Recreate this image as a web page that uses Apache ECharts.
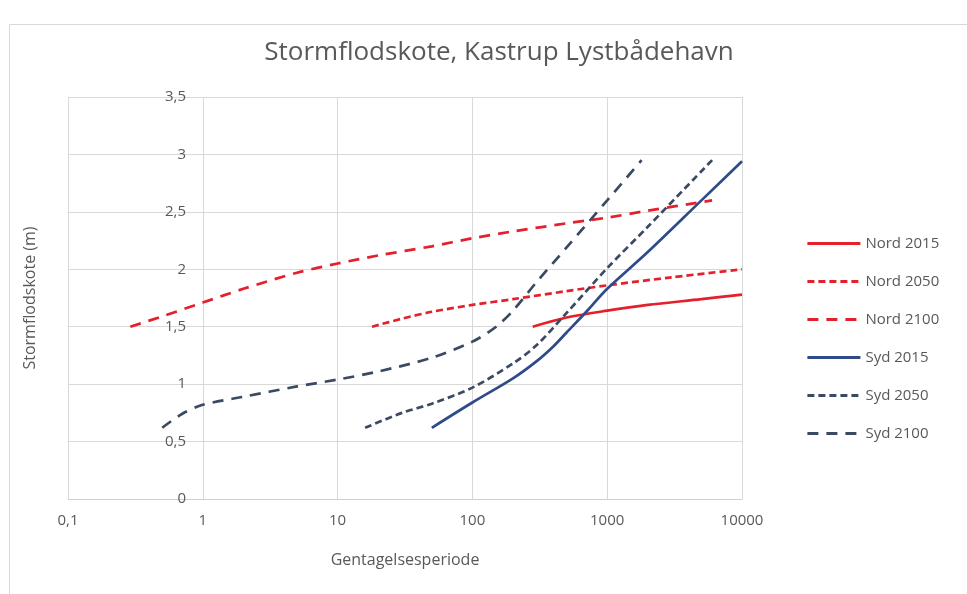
<!DOCTYPE html>
<html>
<head>
<meta charset="utf-8">
<script src="https://cdn.jsdelivr.net/npm/echarts@6/dist/echarts.min.js"></script>
<style>html,body{margin:0;padding:0;background:#fff}#c{width:967px;height:594px}</style>
</head>
<body>
<div id="c"></div>
<script>
// Return periods (x) and storm surge levels in metres (y)
var nord2015X = [280, 500, 1000, 2000, 5000, 10000];
var nord2015Y = [1.50, 1.58, 1.64, 1.69, 1.74, 1.78];

var nord2050X = [18, 30, 50, 100, 200, 500, 1000, 3000, 10000];
var nord2050Y = [1.50, 1.57, 1.63, 1.69, 1.74, 1.81, 1.86, 1.93, 2.00];

var nord2100X = [0.29, 0.5, 1, 2, 5, 10, 20, 50, 100, 200, 500, 1000, 2000, 6000];
var nord2100Y = [1.50, 1.59, 1.71, 1.83, 1.97, 2.05, 2.12, 2.20, 2.27, 2.33, 2.40, 2.45, 2.51, 2.60];

var syd2015X = [50, 100, 200, 300, 400, 500, 700, 1000, 2000, 5000, 10000];
var syd2015Y = [0.62, 0.84, 1.05, 1.20, 1.33, 1.45, 1.63, 1.83, 2.15, 2.60, 2.94];

var syd2050X = [16, 30, 50, 100, 200, 300, 500, 1000, 2000, 6000];
var syd2050Y = [0.62, 0.75, 0.83, 0.97, 1.18, 1.34, 1.62, 2.01, 2.37, 2.95];

var syd2100X = [0.5, 0.7, 1, 2, 5, 10, 20, 50, 100, 150, 200, 300, 500, 1000, 1800];
var syd2100Y = [0.62, 0.74, 0.82, 0.89, 0.98, 1.04, 1.11, 1.23, 1.37, 1.50, 1.64, 1.89, 2.19, 2.60, 2.95];

var seriesNames = ['Nord 2015', 'Nord 2050', 'Nord 2100', 'Syd 2015', 'Syd 2050', 'Syd 2100'];
var xTickValues = [0.1, 1, 10, 100, 1000, 10000];

function pairs(xs, ys) { return xs.map(function (x, i) { return [x, ys[i]]; }); }

var RED = '#E3202B', BLUE = '#2F4B8A', BLUE_D = '#3B4A62';
var FONT = 'Open Sans';
var SHORT = [7, 4], LONG = [11, 8];

function mk(name, xs, ys, color, dash) {
  return {
    name: name, type: 'line', data: pairs(xs, ys), smooth: 0.3, symbol: 'none',
    lineStyle: { color: color, width: 2.7, type: dash || 'solid', cap: 'butt' },
    itemStyle: { color: color, opacity: 0 }
  };
}

var chart = echarts.init(document.getElementById('c'));
chart.setOption({
  animation: false,
  backgroundColor: '#fff',
  title: {
    text: 'Stormflodskote, Kastrup Lystbådehavn', left: 494, top: 35, textAlign: 'center',
    textStyle: { fontFamily: FONT, fontSize: 26, fontWeight: 'normal', color: '#595959' }
  },
  graphic: [{ type: 'rect', shape: { x: 9.5, y: 24.5, width: 980, height: 600 },
    style: { fill: 'none', stroke: '#d9d9d9', lineWidth: 1 }, silent: true }],
  legend: {
    orient: 'vertical', left: 801, top: 231, itemWidth: 53, itemHeight: 14, itemGap: 23,
    data: seriesNames,
    lineStyle: { width: 2.8 },
    textStyle: { fontFamily: FONT, fontSize: 15, color: '#595959' }
  },
  grid: { left: 68, right: 225, top: 97, bottom: 95 },
  xAxis: {
    type: 'log', logBase: 10, min: 0.1, max: 10000,
    name: 'Gentagelsesperiode', nameLocation: 'middle', nameGap: 53,
    nameTextStyle: { fontFamily: FONT, fontSize: 16, color: '#595959' },
    axisLine: { lineStyle: { color: '#d0d0d0' } },
    axisTick: { show: false },
    axisLabel: {
      fontFamily: FONT, fontSize: 15, color: '#595959', margin: 14, showMinLabel: true, showMaxLabel: true,
      formatter: function (v) {
        var best = xTickValues.reduce(function (a, b) { return Math.abs(Math.log10(b) - Math.log10(v)) < Math.abs(Math.log10(a) - Math.log10(v)) ? b : a; });
        return String(best).replace('.', ',');
      }
    },
    splitLine: { show: true, lineStyle: { color: '#d9d9d9' } }
  },
  yAxis: {
    type: 'value', min: 0, max: 3.5, interval: 0.5,
    name: 'Stormflodskote (m)', nameLocation: 'middle', nameGap: 30, nameRotate: 90,
    nameTextStyle: { fontFamily: FONT, fontSize: 16, color: '#595959' },
    axisLine: { show: false }, axisTick: { show: false },
    axisLabel: {
      fontFamily: FONT, fontSize: 15, color: '#595959', margin: -118,
      formatter: function (v) { return String(v).replace('.', ','); }
    },
    splitLine: { lineStyle: { color: '#d9d9d9' } }
  },
  series: [
    mk(seriesNames[0], nord2015X, nord2015Y, RED, 'solid'),
    mk(seriesNames[1], nord2050X, nord2050Y, RED, SHORT),
    mk(seriesNames[2], nord2100X, nord2100Y, RED, LONG),
    mk(seriesNames[3], syd2015X, syd2015Y, BLUE, 'solid'),
    mk(seriesNames[4], syd2050X, syd2050Y, BLUE_D, SHORT),
    mk(seriesNames[5], syd2100X, syd2100Y, BLUE_D, LONG)
  ]
});
</script>
</body>
</html>
